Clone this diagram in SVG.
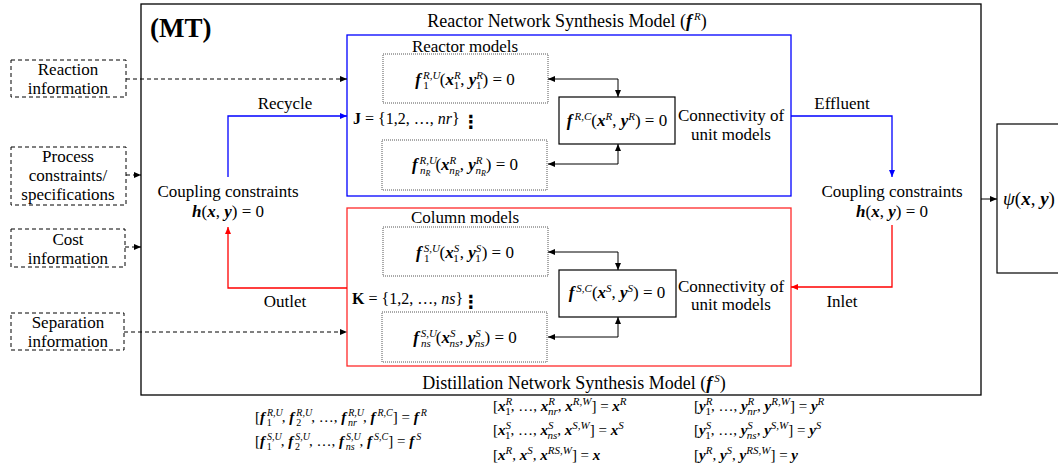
<svg xmlns="http://www.w3.org/2000/svg" width="1058" height="470" viewBox="0 0 1058 470">
<style>
.t{font-family:"Liberation Serif",serif;font-size:17px;fill:#000}
.h{font-family:"Liberation Serif",serif;font-size:18px;fill:#000}
.m{font-family:"Liberation Serif",serif;font-size:17px;fill:#000}
.j{font-family:"Liberation Serif",serif;font-size:16px;fill:#000}
.e{font-family:"Liberation Serif",serif;font-size:15px;fill:#000}
.c{text-anchor:middle}
.bi{font-weight:bold;font-style:italic}
.i{font-style:italic}
.b{font-weight:bold}
.s{font-size:11px}
.s2{font-size:10px}
.ss{font-size:8px}
.dash{fill:none;stroke:#000;stroke-width:1;stroke-dasharray:4 3}
.dot{fill:#fff;stroke:#555;stroke-width:1;stroke-dasharray:1 1}
.solid{fill:#fff;stroke:#000;stroke-width:1.2}
.k{fill:none;stroke:#000;stroke-width:1}
.bl{fill:none;stroke:#0000ff;stroke-width:1.3}
.rd{fill:none;stroke:#ff0000;stroke-width:1.3}
</style>
<defs>
<marker id="ak" markerWidth="8" markerHeight="8" refX="7" refY="4" orient="auto-start-reverse" markerUnits="userSpaceOnUse"><path d="M0,1 L7,4 L0,7 Z" fill="#000"/></marker>
<marker id="ab" markerWidth="8" markerHeight="8" refX="7" refY="4" orient="auto" markerUnits="userSpaceOnUse"><path d="M0,1 L7,4 L0,7 Z" fill="#0000ff"/></marker>
<marker id="ar" markerWidth="8" markerHeight="8" refX="7" refY="4" orient="auto" markerUnits="userSpaceOnUse"><path d="M0,1 L7,4 L0,7 Z" fill="#ff0000"/></marker>
</defs>
<rect width="1058" height="470" fill="#fff"/>

<g id="mt-frame">
<rect x="141" y="4" width="840" height="391" fill="none" stroke="#000" stroke-width="1.3"/>
<text x="150" y="37" font-family="Liberation Serif,serif" font-size="27" font-weight="bold">(MT)</text>
<text class="h c" x="567" y="27">Reactor Network Synthesis Model (<tspan class="bi">f</tspan><tspan class="s i" dx="2" dy="-7">R</tspan><tspan dy="7">)</tspan></text>
<text class="h c" x="574" y="389">Distillation Network Synthesis Model (<tspan class="bi">f</tspan><tspan class="s i" dx="2" dy="-7">S</tspan><tspan dy="7">)</tspan></text>
</g>

<g id="reactor-network">
<rect x="347" y="35" width="444" height="161" fill="none" stroke="#0000ff" stroke-width="1.3"/>
<text class="t c" x="465" y="52">Reactor models</text>
<text class="j" x="353" y="124"><tspan class="b">J</tspan> = {1,2, …, <tspan class="i">nr</tspan>}</text>
<text x="471" y="128" class="c" font-family="DejaVu Sans,sans-serif" font-size="18" font-weight="bold">⋮</text>
</g>

<g id="reactor-unit-1">
<rect class="dot" x="383" y="54" width="165" height="49"/>
<text class="m c" x="465" y="85"><tspan class="bi">f</tspan><tspan class="s i" dx="2" dy="-6">R,U</tspan><tspan class="s" dx="-17" dy="10">1</tspan><tspan dx="11" dy="-4">(</tspan><tspan class="bi">x</tspan><tspan class="s i" dy="-6">R</tspan><tspan class="s" dx="-7" dy="10">1</tspan><tspan dx="1" dy="-4">, </tspan><tspan class="bi">y</tspan><tspan class="s i" dy="-6">R</tspan><tspan class="s" dx="-7" dy="10">1</tspan><tspan dx="1" dy="-4">) = 0</tspan></text>
</g>

<g id="reactor-unit-n">
<rect class="dot" x="382" y="140" width="165" height="50"/>
<text class="m c" x="465" y="170"><tspan class="bi">f</tspan><tspan class="s i" dx="2" dy="-6">R,U</tspan><tspan class="s i" dx="-17" dy="10">n</tspan><tspan class="ss i" dy="2">R</tspan><tspan dx="5" dy="-6">(</tspan><tspan class="bi">x</tspan><tspan class="s i" dy="-6">R</tspan><tspan class="s i" dx="-7" dy="10">n</tspan><tspan class="ss i" dy="2">R</tspan><tspan dy="-6">, </tspan><tspan class="bi">y</tspan><tspan class="s i" dy="-6">R</tspan><tspan class="s i" dx="-7" dy="10">n</tspan><tspan class="ss i" dy="2">R</tspan><tspan dy="-6">) = 0</tspan></text>
</g>

<g id="reactor-connectivity">
<rect class="solid" x="559" y="97" width="116" height="47"/>
<text class="m c" x="617" y="126"><tspan class="bi">f</tspan><tspan class="s i" dx="2" dy="-6">R,C</tspan><tspan dy="6">(</tspan><tspan class="bi">x</tspan><tspan class="s i" dy="-6">R</tspan><tspan dy="6">, </tspan><tspan class="bi">y</tspan><tspan class="s i" dy="-6">R</tspan><tspan dy="6">) = 0</tspan></text>
<text class="t c" x="731" y="121">Connectivity of</text>
<text class="t c" x="731" y="140">unit models</text>
</g>

<g id="distillation-network">
<rect x="347" y="208" width="444" height="158" fill="none" stroke="#ff2a2a" stroke-width="1.3"/>
<text class="t c" x="465" y="223">Column models</text>
<text class="j" x="352" y="304"><tspan class="b">K</tspan> = {1,2, …, <tspan class="i">ns</tspan>}</text>
<text x="471" y="308" class="c" font-family="DejaVu Sans,sans-serif" font-size="18" font-weight="bold">⋮</text>
</g>

<g id="column-unit-1">
<rect class="dot" x="383" y="227" width="165" height="49"/>
<text class="m c" x="465" y="258"><tspan class="bi">f</tspan><tspan class="s i" dx="2" dy="-6">S,U</tspan><tspan class="s" dx="-16" dy="10">1</tspan><tspan dx="10" dy="-4">(</tspan><tspan class="bi">x</tspan><tspan class="s i" dy="-6">S</tspan><tspan class="s" dx="-6" dy="10">1</tspan><tspan dx="1" dy="-4">, </tspan><tspan class="bi">y</tspan><tspan class="s i" dy="-6">S</tspan><tspan class="s" dx="-6" dy="10">1</tspan><tspan dx="1" dy="-4">) = 0</tspan></text>
</g>

<g id="column-unit-n">
<rect class="dot" x="382" y="312" width="165" height="50"/>
<text class="m c" x="465" y="343"><tspan class="bi">f</tspan><tspan class="s i" dx="2" dy="-6">S,U</tspan><tspan class="s i" dx="-16" dy="10">ns</tspan><tspan dx="5" dy="-4">(</tspan><tspan class="bi">x</tspan><tspan class="s i" dy="-6">S</tspan><tspan class="s i" dx="-6" dy="10">ns</tspan><tspan dy="-4">, </tspan><tspan class="bi">y</tspan><tspan class="s i" dy="-6">S</tspan><tspan class="s i" dx="-6" dy="10">ns</tspan><tspan dy="-4">) = 0</tspan></text>
</g>

<g id="column-connectivity">
<rect class="solid" x="559" y="270" width="117" height="47"/>
<text class="m c" x="617" y="298"><tspan class="bi">f</tspan><tspan class="s i" dx="2" dy="-6">S,C</tspan><tspan dy="6">(</tspan><tspan class="bi">x</tspan><tspan class="s i" dy="-6">S</tspan><tspan dy="6">, </tspan><tspan class="bi">y</tspan><tspan class="s i" dy="-6">S</tspan><tspan dy="6">) = 0</tspan></text>
<text class="t c" x="731" y="292">Connectivity of</text>
<text class="t c" x="731" y="310">unit models</text>
</g>

<g id="reaction-information">
<rect class="dash" x="11" y="60" width="115" height="37"/>
<text class="t c" x="68" y="75">Reaction</text>
<text class="t c" x="68" y="94">information</text>
</g>

<g id="process-constraints">
<rect class="dash" x="11" y="147" width="115" height="58"/>
<text class="t c" x="68" y="162">Process</text>
<text class="t c" x="68" y="181">constraints/</text>
<text class="t c" x="68" y="200">specifications</text>
</g>

<g id="cost-information">
<rect class="dash" x="11" y="229" width="114" height="38"/>
<text class="t c" x="68" y="245">Cost</text>
<text class="t c" x="68" y="264">information</text>
</g>

<g id="separation-information">
<rect class="dash" x="11" y="313" width="113" height="37"/>
<text class="t c" x="68" y="328">Separation</text>
<text class="t c" x="68" y="347">information</text>
</g>

<g id="coupling-left">
<text class="t c" x="228" y="197">Coupling constraints</text>
<text class="m c" x="228" y="217"><tspan class="bi">h</tspan>(<tspan class="bi">x</tspan>, <tspan class="bi">y</tspan>) = 0</text>
</g>

<g id="coupling-right">
<text class="t c" x="892" y="197">Coupling constraints</text>
<text class="m c" x="892" y="217"><tspan class="bi">h</tspan>(<tspan class="bi">x</tspan>, <tspan class="bi">y</tspan>) = 0</text>
</g>

<g id="objective">
<rect x="997" y="124" width="70" height="149" fill="#fff" stroke="#000" stroke-width="1.2"/>
<text x="1003" y="205" font-family="Liberation Serif,serif" font-size="19"><tspan class="i">ψ</tspan>(<tspan class="bi">x</tspan>, <tspan class="bi">y</tspan>)</text>
</g>

<g id="connectors">
<path class="dash" d="M126,79 H347" marker-end="url(#ak)"/>
<path class="dash" d="M126,175 H141" marker-end="url(#ak)"/>
<path class="dash" d="M125,247 H141" marker-end="url(#ak)"/>
<path class="dash" d="M124,332 H347" marker-end="url(#ak)"/>
<path class="bl" d="M228,177 V116 H347" marker-end="url(#ab)"/>
<path class="bl" d="M791,116 H892 V177" marker-end="url(#ab)"/>
<path class="rd" d="M347,288 H228 V227" marker-end="url(#ar)"/>
<path class="rd" d="M892,225 V287 H791" marker-end="url(#ar)"/>
<path class="k" d="M981,199 H997" marker-end="url(#ak)"/>
<path class="k" d="M548,79 H618 V97" marker-start="url(#ak)" marker-end="url(#ak)"/>
<path class="k" d="M548,164 H618 V144" marker-start="url(#ak)" marker-end="url(#ak)"/>
<path class="k" d="M548,252 H618 V270" marker-start="url(#ak)" marker-end="url(#ak)"/>
<path class="k" d="M548,337 H618 V317" marker-start="url(#ak)" marker-end="url(#ak)"/>
<text class="t c" x="285" y="109">Recycle</text>
<text class="t c" x="842" y="109">Effluent</text>
<text class="t c" x="285" y="307">Outlet</text>
<text class="t c" x="842" y="307">Inlet</text>
</g>

<g id="definitions">
<text class="e" x="255" y="422">[<tspan class="bi">f</tspan><tspan class="s2 i" dx="2" dy="-6">R,U</tspan><tspan class="s2" dx="-16" dy="10">1</tspan><tspan dx="10" dy="-4">, </tspan><tspan class="bi">f</tspan><tspan class="s2 i" dx="2" dy="-6">R,U</tspan><tspan class="s2" dx="-16" dy="10">2</tspan><tspan dx="10" dy="-4">, …, </tspan><tspan class="bi">f</tspan><tspan class="s2 i" dx="2" dy="-6">R,U</tspan><tspan class="s2 i" dx="-16" dy="10">nr</tspan><tspan dx="6" dy="-4">, </tspan><tspan class="bi">f</tspan><tspan class="s2 i" dx="2" dy="-6">R,C</tspan><tspan dy="6">] = </tspan><tspan class="bi">f</tspan><tspan class="s2 i" dx="2" dy="-6">R</tspan></text>
<text class="e" x="255" y="446">[<tspan class="bi">f</tspan><tspan class="s2 i" dx="2" dy="-6">S,U</tspan><tspan class="s2" dx="-15" dy="10">1</tspan><tspan dx="9" dy="-4">, </tspan><tspan class="bi">f</tspan><tspan class="s2 i" dx="2" dy="-6">S,U</tspan><tspan class="s2" dx="-15" dy="10">2</tspan><tspan dx="9" dy="-4">, …, </tspan><tspan class="bi">f</tspan><tspan class="s2 i" dx="2" dy="-6">S,U</tspan><tspan class="s2 i" dx="-15" dy="10">ns</tspan><tspan dx="5" dy="-4">, </tspan><tspan class="bi">f</tspan><tspan class="s2 i" dx="2" dy="-6">S,C</tspan><tspan dy="6">] = </tspan><tspan class="bi">f</tspan><tspan class="s2 i" dx="2" dy="-6">S</tspan></text>

<text class="e" x="493" y="411">[<tspan class="bi">x</tspan><tspan class="s i" dy="-6">R</tspan><tspan class="s" dx="-7" dy="10">1</tspan><tspan dy="-4">, …, </tspan><tspan class="bi">x</tspan><tspan class="s i" dy="-6">R</tspan><tspan class="s i" dx="-7" dy="10">nr</tspan><tspan dy="-4">, </tspan><tspan class="bi">x</tspan><tspan class="s i" dy="-6">R,W</tspan><tspan dy="6">] = </tspan><tspan class="bi">x</tspan><tspan class="s i" dy="-6">R</tspan></text>
<text class="e" x="493" y="435">[<tspan class="bi">x</tspan><tspan class="s i" dy="-6">S</tspan><tspan class="s" dx="-6" dy="10">1</tspan><tspan dy="-4">, …, </tspan><tspan class="bi">x</tspan><tspan class="s i" dy="-6">S</tspan><tspan class="s i" dx="-6" dy="10">ns</tspan><tspan dy="-4">, </tspan><tspan class="bi">x</tspan><tspan class="s i" dy="-6">S,W</tspan><tspan dy="6">] = </tspan><tspan class="bi">x</tspan><tspan class="s i" dy="-6">S</tspan></text>
<text class="e" x="493" y="460">[<tspan class="bi">x</tspan><tspan class="s i" dy="-6">R</tspan><tspan dy="6">, </tspan><tspan class="bi">x</tspan><tspan class="s i" dy="-6">S</tspan><tspan dy="6">, </tspan><tspan class="bi">x</tspan><tspan class="s i" dy="-6">RS,W</tspan><tspan dy="6">] = </tspan><tspan class="bi">x</tspan></text>

<text class="e" x="694" y="411">[<tspan class="bi">y</tspan><tspan class="s i" dy="-6">R</tspan><tspan class="s" dx="-7" dy="10">1</tspan><tspan dy="-4">, …, </tspan><tspan class="bi">y</tspan><tspan class="s i" dy="-6">R</tspan><tspan class="s i" dx="-7" dy="10">nr</tspan><tspan dy="-4">, </tspan><tspan class="bi">y</tspan><tspan class="s i" dy="-6">R,W</tspan><tspan dy="6">] = </tspan><tspan class="bi">y</tspan><tspan class="s i" dy="-6">R</tspan></text>
<text class="e" x="694" y="435">[<tspan class="bi">y</tspan><tspan class="s i" dy="-6">S</tspan><tspan class="s" dx="-6" dy="10">1</tspan><tspan dy="-4">, …, </tspan><tspan class="bi">y</tspan><tspan class="s i" dy="-6">S</tspan><tspan class="s i" dx="-6" dy="10">ns</tspan><tspan dy="-4">, </tspan><tspan class="bi">y</tspan><tspan class="s i" dy="-6">S,W</tspan><tspan dy="6">] = </tspan><tspan class="bi">y</tspan><tspan class="s i" dy="-6">S</tspan></text>
<text class="e" x="694" y="460">[<tspan class="bi">y</tspan><tspan class="s i" dy="-6">R</tspan><tspan dy="6">, </tspan><tspan class="bi">y</tspan><tspan class="s i" dy="-6">S</tspan><tspan dy="6">, </tspan><tspan class="bi">y</tspan><tspan class="s i" dy="-6">RS,W</tspan><tspan dy="6">] = </tspan><tspan class="bi">y</tspan></text>
</g>
</svg>
